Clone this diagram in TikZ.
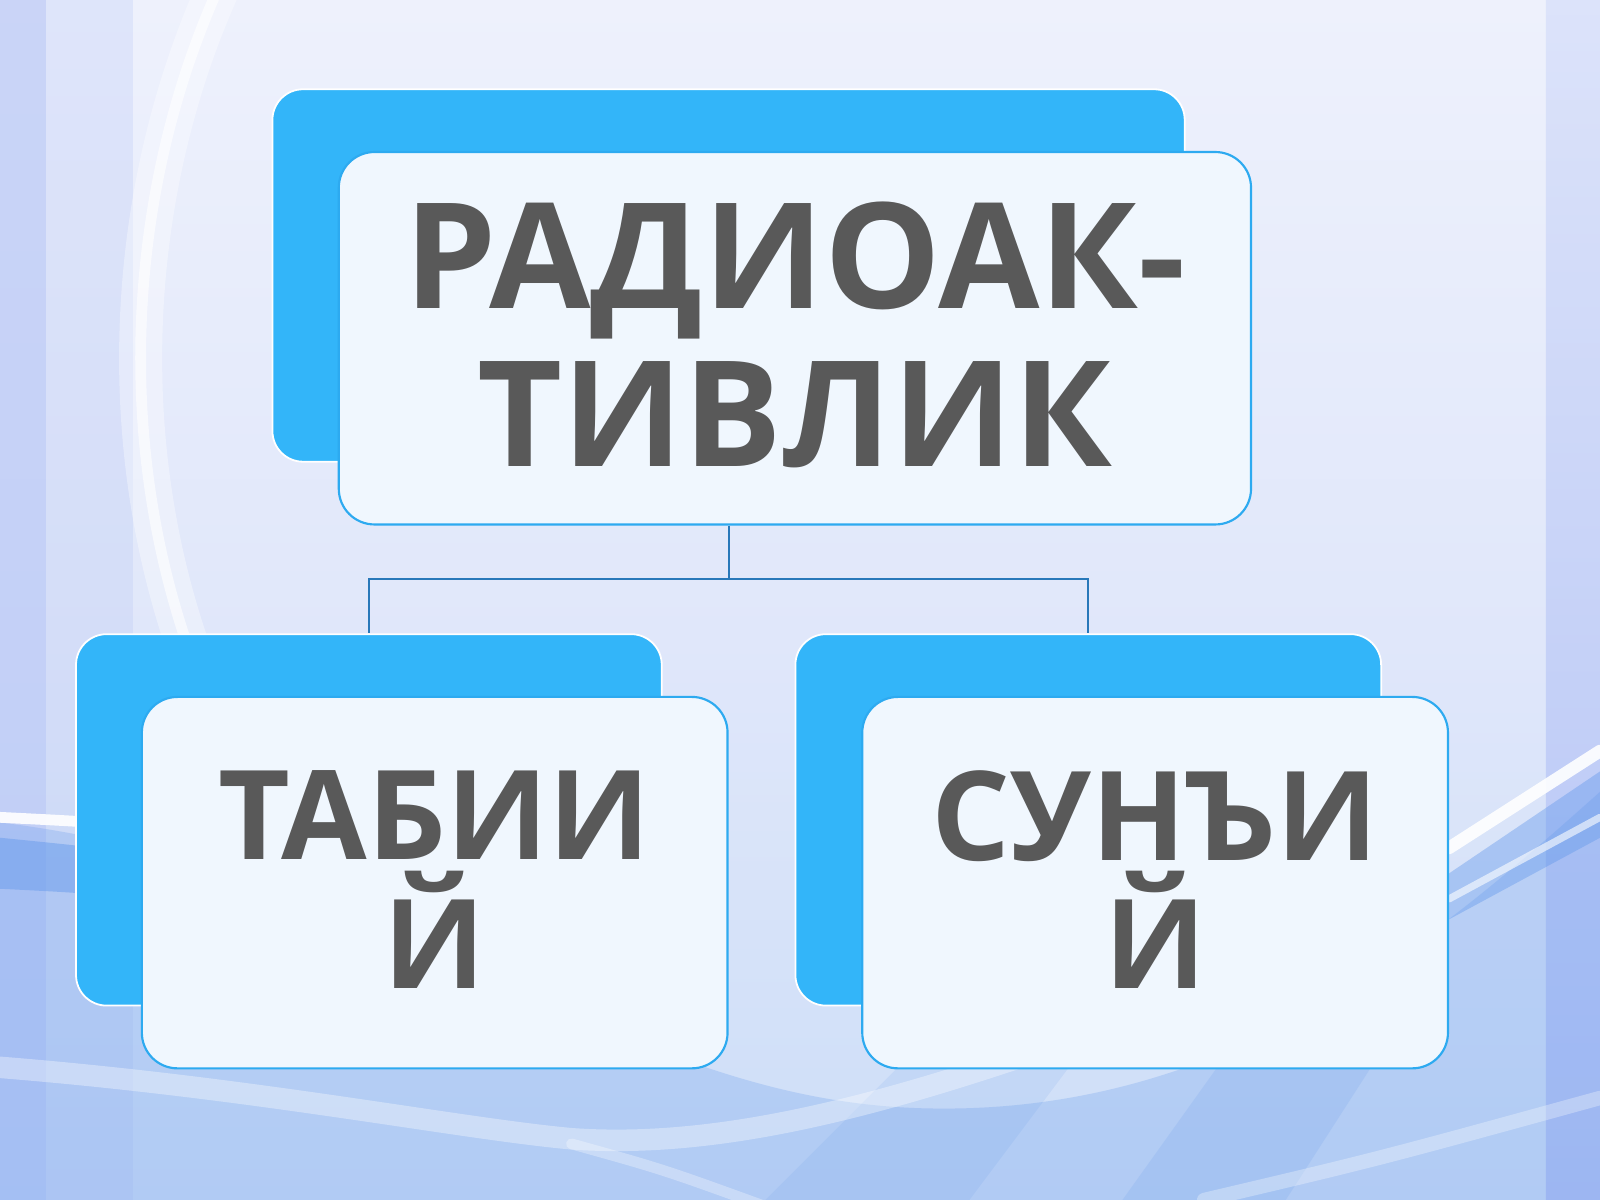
\documentclass[tikz,border=0pt]{standalone}
\usepackage{fontspec}
\setmainfont{Open Sans}
\usepackage{tikz}

\definecolor{boxblue}{RGB}{51,181,249}
\definecolor{edge}{RGB}{45,170,240}
\definecolor{wire}{RGB}{40,120,185}
\definecolor{face}{RGB}{240,247,254}
\definecolor{txt}{RGB}{89,89,89}
\definecolor{bgtop}{RGB}{238,241,252}
\definecolor{bgmid}{RGB}{224,231,250}
\definecolor{bgbot}{RGB}{205,222,248}
\definecolor{wave}{RGB}{95,150,235}
\definecolor{side}{RGB}{178,194,245}

\begin{document}
\begin{tikzpicture}[back/.style = {fill=boxblue, draw=white, line width=0.5pt, rounded corners=0.3cm},
front/.style = {fill=face, draw=edge, line width=0.6pt, rounded corners=0.35cm, align=center, text=txt},
big/.style = {minimum width=8.94cm, minimum height=3.65cm},
small/.style = {minimum width=5.74cm, minimum height=3.64cm},
bigfont/.style = {font=\bfseries\fontsize{41}{44.2}\selectfont},
smallfont/.style = {font=\bfseries\fontsize{34.6}{35.8}\selectfont},
wire/.style = {draw=wire, line width=0.6pt},
streak/.style = {draw=white, line cap=round}]
\useasboundingbox (0,0) rectangle (15.68,11.76);
% background
\fill[top color=bgtop, bottom color=bgmid] (0,5.5) rectangle (15.68,11.76);
\fill[top color=bgmid, bottom color=bgbot] (0,0) rectangle (15.68,5.5);
\fill[side, opacity=0.6] (0,0) rectangle (0.45,11.76);
\fill[side, opacity=0.25] (0.45,0) rectangle (1.3,11.76);
\fill[top color=side!30!bgtop, bottom color=side] (15.15,0) rectangle (15.68,11.76);
\draw[streak, line width=12pt, opacity=0.35] (2.15,11.9) .. controls (1.2,9.8) and (1.1,7.2) .. (2.0,5.0);
\draw[streak, line width=3pt, opacity=0.6] (2.15,11.9) .. controls (1.2,9.8) and (1.1,7.2) .. (2.0,5.0);
% waves
\fill[wave, opacity=0.25] (0,3.7) .. controls (4,3.2) and (6,1.0) .. (9,0.9) .. controls (12,0.8) and (14,2.5) .. (15.68,4.0) -- (15.68,0) -- (0,0) -- cycle;
\fill[wave, opacity=0.45] (0,3.55) .. controls (1,3.45) .. (2,3.3) -- (2,2.85) .. controls (1,3.0) .. (0,3.05) -- cycle;
\fill[wave, opacity=0.4] (14.2,3.2) -- (15.68,4.2) -- (15.68,3.55) -- (14.2,2.75) -- cycle;
\fill[wave, opacity=0.12] (7.5,0) -- (9.5,2.0) -- (11.0,2.0) -- (9.5,0) -- cycle;
\fill[wave, opacity=0.15] (11.0,0) -- (12.0,1.4) -- (13.5,1.4) -- (12.6,0) -- cycle;
\draw[streak, line width=3pt, opacity=0.9] (0,3.75) .. controls (1,3.7) .. (2,3.6);
\draw[streak, line width=3.5pt, opacity=0.9] (14.2,3.45) -- (15.68,4.4);
\draw[streak, line width=2pt, opacity=0.6] (14.2,2.95) -- (15.68,3.75);
\draw[streak, line width=6pt, opacity=0.35] (0,1.3) .. controls (2.5,1.1) and (4.5,0.7) .. (5.6,0.6) .. controls (7,0.5) and (8.5,0.9) .. (10,1.4);
\draw[streak, line width=3pt, opacity=0.3] (5.6,0.55) .. controls (6.5,0.3) .. (7.6,-0.1);
\draw[streak, line width=4pt, opacity=0.3] (11.8,0) .. controls (13.5,0.4) .. (15.68,1.0);

% boxes
\node[back, big] (rb) at (7.14,9.06) {};
\node[front, big, bigfont] (r) at ([shift={(0.65,-0.615)}]rb.center) {РАДИОАК-\\ТИВЛИК\rule[-0.08cm]{0pt}{0pt}};
\node[back, small] (tb) at (3.615,3.725) {};
\node[front, small, smallfont] (t) at ([shift={(0.645,-0.615)}]tb.center) {ТАБИИ\\Й\rule[-0.06cm]{0pt}{0pt}};
\node[back, small] (sb) at (10.665,3.725) {};
\node[front, small, smallfont] (s) at ([shift={(0.655,-0.615)}]sb.center) {СУНЪИ\\Й\rule[-0.06cm]{0pt}{0pt}};

% connectors
\draw[wire] (r.south -| rb) -- ++(0,-0.52) coordinate (fork);
\draw[wire] (fork) -| (tb.north);
\draw[wire] (fork) -| (sb.north);
\end{tikzpicture}
\end{document}
